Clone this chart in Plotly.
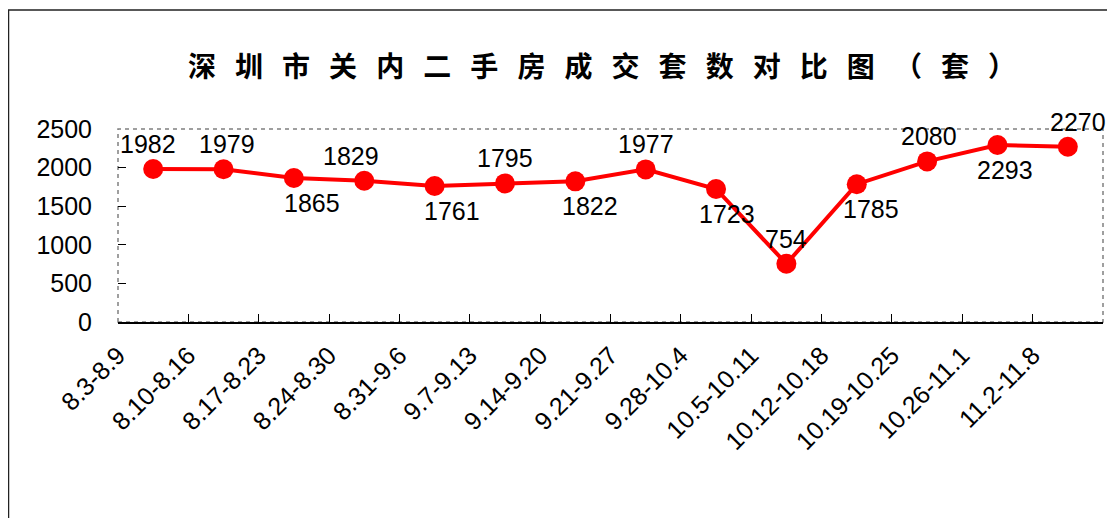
import plotly.graph_objects as go

weeks = ["8.3-8.9", "8.10-8.16", "8.17-8.23", "8.24-8.30", "8.31-9.6", "9.7-9.13",
         "9.14-9.20", "9.21-9.27", "9.28-10.4", "10.5-10.11", "10.12-10.18",
         "10.19-10.25", "10.26-11.1", "11.2-11.8"]
deals = [1982, 1979, 1865, 1829, 1761, 1795, 1822, 1977, 1723, 754, 1785, 2080, 2293, 2270]
title_text = "深圳市关内二手房成交套数对比图（套）"

# label placement (style): +1 above the point, -1 below; horizontal nudge in px
label_side = [1, 1, -1, 1, -1, 1, -1, 1, -1, 1, -1, 1, -1, 1]
label_dx = [-5, 3, 18, -13, 17, 0, 15, 0, 11, 0, 14, 2, 8, 10]

x_idx = list(range(len(weeks)))
sp = "\u00a0\u00a0\u00a0"
spaced_title = sp.join(list(title_text))

# page body has an 8px offset; figure coordinates below compensate for it
OFF = 8
W, H = 1115 - OFF, 518 - OFF
L, R, T, B = 118 - OFF, 12, 129 - OFF, 196
PW = W - L - R
PH = H - T - B

fig = go.Figure()
fig.add_trace(go.Scatter(
    x=x_idx, y=deals, mode="lines+markers",
    line=dict(color="#FF0000", width=4),
    marker=dict(color="#FF0000", size=20),
    cliponaxis=False, showlegend=False, hoverinfo="skip",
))

for xi, v, s, dx in zip(x_idx, deals, label_side, label_dx):
    fig.add_annotation(x=xi, y=v, text=str(v), showarrow=False,
                       xshift=dx, yshift=25 * s,
                       font=dict(family="Liberation Sans, Arial", size=25, color="#000000"))

# outer chart frame
fig.add_shape(type="rect", xref="paper", yref="paper",
              x0=(0.5 - L) / PW, x1=1.3, y0=-2.0, y1=(T + PH - 2) / PH,
              line=dict(color="#222222", width=1.5), layer="below")
# plot area dashed border
fig.add_shape(type="rect", xref="paper", yref="paper", x0=0, x1=1, y0=0, y1=1,
              line=dict(color="#808080", width=1.5, dash="4px,4px"), layer="below")

fig.update_layout(
    width=W, height=H,
    margin=dict(l=L, r=R, t=T, b=B),
    paper_bgcolor="white", plot_bgcolor="white",
    title=dict(text="<b>" + spaced_title + "</b>",
               x=(602 - 118) / PW, xref="paper", xanchor="center",
               y=1 - (67 - OFF) / H, yref="container", yanchor="middle",
               font=dict(family="Noto Sans CJK SC", size=28, color="#000000")),
    xaxis=dict(range=[-0.5, len(weeks) - 0.5],
               tickvals=[i - 0.5 for i in x_idx], ticktext=weeks,
               tickangle=-45, ticks="inside", ticklen=8, tickcolor="#000000",
               showline=True, linecolor="#000000", linewidth=1.5,
               showgrid=False, zeroline=False, ticklabelstandoff=7,
               tickfont=dict(family="Liberation Sans, Arial", size=25, color="#000000")),
    yaxis=dict(range=[0, 2500], tick0=0, dtick=500,
               ticks="inside", ticklen=8, tickcolor="#000000",
               showline=False, showgrid=False, zeroline=False, ticklabelstandoff=25,
               tickfont=dict(family="Liberation Sans, Arial", size=25, color="#000000")),
)

fig.write_html("out.html")
